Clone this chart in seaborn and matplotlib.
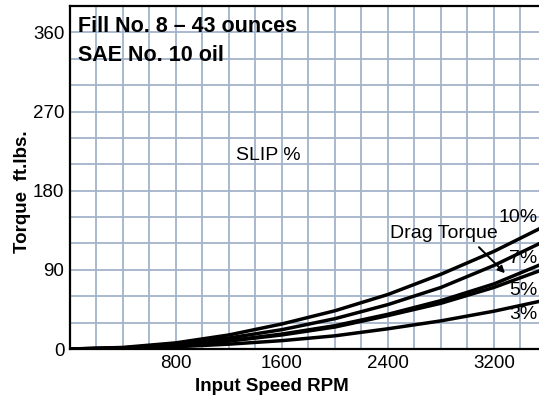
import matplotlib
matplotlib.use('Agg')
import matplotlib.pyplot as plt
from matplotlib.ticker import MultipleLocator
import pandas as pd
import seaborn as sns

# input speed (rpm) and torque (ft.lbs.)
rpm = [0, 400, 800, 1200, 1600, 2000, 2400, 2800, 3200, 3600]
slip_10 = [0, 1.8, 7, 16, 28.5, 43.5, 62, 85, 111, 141]
slip_7 = [0, 1.3, 5.5, 12.5, 22, 34.5, 50.5, 70, 95, 124]
drag = [0, 1, 4.2, 9.5, 17, 26.5, 39.5, 55, 74, 99]
slip_5 = [0, 1, 4, 9, 16, 25, 38, 52, 70, 92]
slip_3 = [0, 0.5, 2.5, 5.5, 9.5, 15, 23, 32, 43, 56]

series = {'10%': slip_10, '7%': slip_7, 'Drag Torque': drag, '5%': slip_5, '3%': slip_3}
rows = []
for name, vals in series.items():
    for r, t in zip(rpm, vals):
        rows.append({'rpm': r, 'torque': t, 'curve': name})
df = pd.DataFrame(rows)

sns.set_style('white')
plt.rcParams['font.family'] = ['Liberation Sans', 'DejaVu Sans']
plt.rcParams['text.color'] = 'black'
plt.rcParams['axes.labelcolor'] = 'black'
plt.rcParams['xtick.color'] = 'black'
plt.rcParams['ytick.color'] = 'black'

fig = plt.figure(figsize=(5.39, 4.0), dpi=100)
ax = fig.add_axes([70 / 539, 51 / 400, 469 / 539, 343 / 400])

sns.lineplot(data=df, x='rpm', y='torque', units='curve', estimator=None,
             color='black', linewidth=2.5, ax=ax, legend=False)

ax.set_xlim(0, 3540)
ax.set_ylim(0, 390)
ax.xaxis.set_major_locator(MultipleLocator(800))
ax.xaxis.set_minor_locator(MultipleLocator(200))
ax.yaxis.set_major_locator(MultipleLocator(90))
ax.yaxis.set_minor_locator(MultipleLocator(30))
ax.set_xticks([800, 1600, 2400, 3200])
ax.grid(which='both', color='#a3b3c9', linewidth=1.3)
ax.set_axisbelow(True)
ax.tick_params(which='both', length=0, labelsize=13.5, pad=4)

for s in ['left', 'bottom', 'top']:
    ax.spines[s].set_color('black')
    ax.spines[s].set_linewidth(1.6)
ax.spines['right'].set_visible(False)

ax.set_xlabel('Input Speed RPM', fontsize=13.5, fontweight='bold')
ax.set_ylabel('Torque  ft.lbs.', fontsize=13.5, fontweight='bold')
ax.xaxis.set_label_coords(0.43, -0.085)
ax.yaxis.set_label_coords(-0.083, 0.46)

ax.text(60, 360.5, 'Fill No. 8 \u2013 43 ounces', fontsize=15.5, fontweight='bold', va='baseline')
ax.text(60, 328, 'SAE No. 10 oil', fontsize=15.5, fontweight='bold', va='baseline')
ax.text(1255, 220, 'SLIP %', fontsize=14, va='center')

# slip labels sit right at the plot edge
ax.text(3530, 149, '10%', fontsize=14, va='center', ha='right')
ax.text(3530, 103, '7%', fontsize=14, va='center', ha='right')
ax.text(3530, 67, '5%', fontsize=14, va='center', ha='right')
ax.text(3530, 39, '3%', fontsize=14, va='center', ha='right')

ax.text(2415, 131, 'Drag Torque', fontsize=14, va='center')
ax.annotate('', xy=(3298, 84), xytext=(3072, 118),
            arrowprops=dict(arrowstyle='-|>', color='black', lw=1.4, mutation_scale=10))

plt.savefig('out.png', dpi=100)
